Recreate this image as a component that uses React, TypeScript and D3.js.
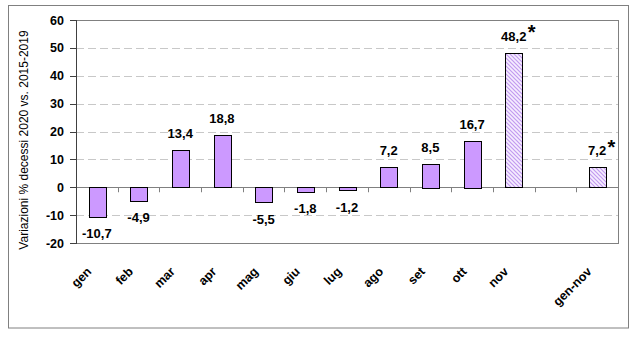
import React from "react";
import * as d3 from "d3";

const categories = ["gen", "feb", "mar", "apr", "mag", "giu", "lug", "ago", "set", "ott", "nov", "", "gen-nov"];
const values: (number | null)[] = [-10.7, -4.9, 13.4, 18.8, -5.5, -1.8, -1.2, 7.2, 8.5, 16.7, 48.2, null, 7.2];
const provisional = [false, false, false, false, false, false, false, false, false, false, true, false, true];
const yTicks = [-20, -10, 0, 10, 20, 30, 40, 50, 60];
const yTitle = "Variazioni % decessi 2020 vs. 2015-2019";

const W = 636, H = 337;
const PL = 76, PR = 618, PT = 20, PB = 243;
const FONT = "'Liberation Sans', Arial, sans-serif";

export default function App() {
  const x = d3.scaleBand<string>().domain(categories.map((c, i) => i + ":" + c)).range([PL, PR]).paddingInner(0).paddingOuter(0);
  const y = d3.scaleLinear().domain([-20, 60]).range([PB, PT]);
  const bw = x.bandwidth();
  const barW = bw * 0.4;
  const fmt = (v: number) => d3.format(".1f")(v).replace(".", ",").replace("\u2212", "-");
  const keys = x.domain();

  return (
    <svg width={W} height={H} style={{ position: "absolute", left: 0, top: 0, display: "block" }} fontFamily={FONT}>
      <defs>
        <pattern id="hatch" patternUnits="userSpaceOnUse" width="4" height="4">
          <rect width="4" height="4" fill="#f6eeff" />
          <path d="M-1,-1 L5,5 M-1,3 L1,5 M3,-1 L5,1" stroke="#c29af0" strokeWidth="1.2" />
        </pattern>
      </defs>
      <rect x={0} y={0} width={W} height={H} fill="#ffffff" />
      <rect x={8.5} y={5.5} width={620} height={322.5} fill="none" stroke="#808080" strokeWidth={1} />

      {/* gridlines */}
      {yTicks.filter(t => t !== 0 && t !== -20 && t !== 60).map(t => (
        <line key={"g" + t} x1={PL} x2={PR} y1={Math.round(y(t)) + 0.5} y2={Math.round(y(t)) + 0.5}
          stroke="#c8c8c8" strokeDasharray="8,4" strokeWidth={1} />
      ))}
      {/* plot border */}
      <rect x={PL + 0.5} y={PT + 0.5} width={PR - PL} height={PB - PT} fill="none" stroke="#808080" strokeWidth={1} />
      {/* zero line */}
      <line x1={PL} x2={PR} y1={Math.round(y(0)) + 0.5} y2={Math.round(y(0)) + 0.5} stroke="#808080" strokeWidth={1} />
      {keys.slice(1).map(k => (
        <line key={"xt" + k} x1={Math.round(x(k)!) + 0.5} x2={Math.round(x(k)!) + 0.5}
          y1={y(0)} y2={y(0) + 5} stroke="#808080" />
      ))}

      {/* bars */}
      {values.map((v, i) => {
        if (v === null) return null;
        const cx = x(keys[i])! + bw / 2;
        const y0 = y(Math.max(0, v));
        const y1 = y(Math.min(0, v));
        return (
          <rect key={"b" + i} x={Math.round(cx - barW / 2) + 0.5} y={Math.round(y0) + 0.5}
            width={Math.round(barW)} height={Math.max(1, Math.round(y1 - y0))}
            fill={provisional[i] ? "url(#hatch)" : "#cc99ff"} stroke="#000000" strokeWidth={1} />
        );
      })}

      {/* value labels */}
      {values.map((v, i) => {
        if (v === null) return null;
        const cx = x(keys[i])! + bw / 2;
        const yy = v >= 0 ? y(v) - 12 : y(v) + 21;
        return (
          <g key={"l" + i}>
            <text x={cx} y={yy} textAnchor="middle" fontSize={13} fontWeight="bold" fill="#000">{fmt(v)}</text>
            {provisional[i] && (
              <text x={cx + (fmt(v).length * 3.6) - 0.5} y={yy - 1.5} fontSize={20} fontWeight="bold" fill="#000">*</text>
            )}
          </g>
        );
      })}

      {/* y axis */}
      <line x1={PL + 0.5} x2={PL + 0.5} y1={PT} y2={PB + 1} stroke="#404040" strokeWidth={1} />
      {yTicks.map(t => (
        <g key={"yt" + t}>
          <line x1={PL - 6} x2={PL} y1={Math.round(y(t)) + 0.5} y2={Math.round(y(t)) + 0.5} stroke="#404040" />
          <text x={64} y={y(t) + 4.5} textAnchor="end" fontSize={12.5} fontWeight="bold" fill="#000">{t}</text>
        </g>
      ))}

      {/* category labels */}
      {categories.map((c, i) => {
        if (!c) return null;
        const cx = x(keys[i])! + bw / 2;
        return (
          <text key={"c" + i} transform={`translate(${cx - 11},${266}) rotate(-45)`} textAnchor="end"
            dy="0.72em" fontSize={12.5} fontWeight="bold" fill="#000">{c}</text>
        );
      })}

      {/* y title */}
      <text transform={`translate(28,140) rotate(-90)`} textAnchor="middle" fontSize={12} fill="#000">{yTitle}</text>
    </svg>
  );
}
